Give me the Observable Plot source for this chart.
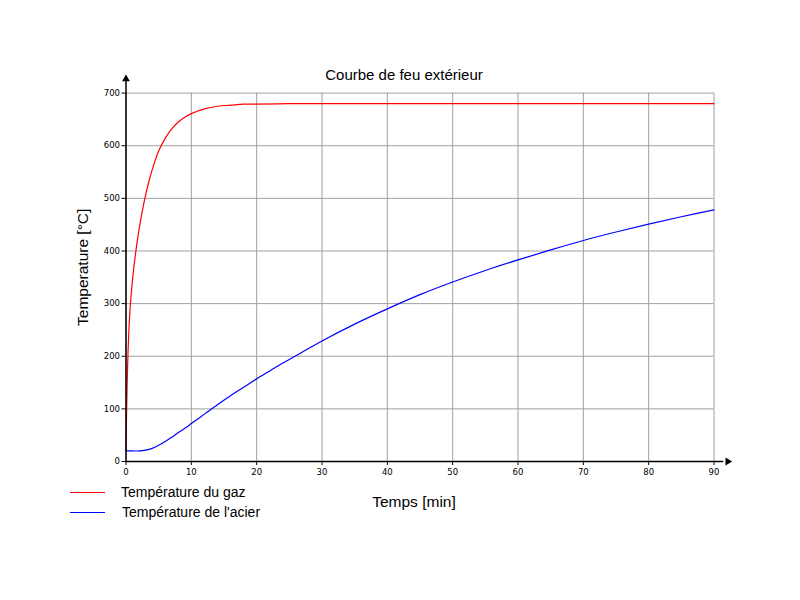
<!DOCTYPE html>
<html>
<head>
<meta charset="utf-8">
<script src="https://cdn.jsdelivr.net/npm/d3@7"></script>
<script src="https://cdn.jsdelivr.net/npm/@observablehq/plot@0.6"></script>
<style>
  html, body { margin: 0; padding: 0; background: #fff; }
  #wrap { position: relative; width: 800px; height: 600px; }
  #legend { position: absolute; left: 70px; top: 482px; font-family: "Liberation Sans", Arial, sans-serif; font-size: 14px; color: #000; }
  .row { display: flex; align-items: center; height: 20px; }
  .sw { width: 35px; height: 0; border-top: 1.3px solid; margin-right: 16px; }
</style>
</head>
<body>
<div id="wrap">
  <div id="chart"></div>
  <div id="legend"></div>
</div>
<script>
// Data
const gasTime = [0, 0.1, 0.25, 0.5, 0.75, 1, 1.5, 2, 2.5, 3, 3.5, 4, 5, 6, 7, 8, 9, 10, 12, 14, 16, 18, 20, 25, 30, 40, 50, 60, 70, 80, 90];
const gasTemp = [20, 100, 183, 264, 311, 346, 399, 441, 476, 506, 532, 554, 590, 614, 632, 645, 654, 661, 670, 675, 677, 679, 679, 680, 680, 680, 680, 680, 680, 680, 680];
const steelTime = [0, 1, 2, 2.5, 3, 3.5, 4, 5, 6, 7, 8, 9, 10, 12, 14, 16, 18, 20, 22, 24, 26, 28, 30, 35, 40, 45, 50, 55, 60, 65, 70, 75, 80, 85, 90];
const steelTemp = [20, 20, 20, 20.5, 21.5, 23, 25, 31, 38, 46, 55, 63, 72, 90, 108, 125, 141, 157, 172, 187, 201, 215, 229, 261, 290, 317, 341, 363, 383, 402, 420, 436, 451, 465, 478];
const xTicks = [0, 10, 20, 30, 40, 50, 60, 70, 80, 90];
const yTicks = [0, 100, 200, 300, 400, 500, 600, 700];
const seriesNames = ["Température du gaz", "Température de l'acier"];
const seriesColors = ["#ff0000", "#0000ff"];
const title = "Courbe de feu extérieur";
const xLabel = "Temps [min]";
const yLabel = "Temperature [°C]";
// axis extents (arrows) in data units
const xAxisEnd = 91.5, xArrow = 92.1;
const yAxisEnd = 728, yArrow = 727;

const gas = gasTime.map((t, i) => ({t, v: gasTemp[i]}));
const steel = steelTime.map((t, i) => ({t, v: steelTemp[i]}));

const tickFont = "DejaVu Sans, Verdana, sans-serif";

const chart = Plot.plot({
  width: 800,
  height: 600,
  marginLeft: 125.5,
  marginRight: 86.5,
  marginTop: 92.6,
  marginBottom: 139,
  style: {fontFamily: "Liberation Sans, Arial, sans-serif", background: "#fff"},
  x: {domain: [0, 90]},
  y: {domain: [0, 700]},
  marks: [
    Plot.gridX(xTicks, {stroke: "#a0a0a0", strokeOpacity: 1, strokeWidth: 1}),
    Plot.gridY(yTicks, {stroke: "#a0a0a0", strokeOpacity: 1, strokeWidth: 1}),
    Plot.axisX(xTicks, {tickSize: 4, tickPadding: 3, fontSize: 8.5, fontFamily: tickFont, fill: "#000", stroke: "#000", label: null}),
    Plot.axisY(yTicks, {tickSize: 4, tickPadding: 2, fontSize: 8.5, fontFamily: tickFont, fill: "#000", stroke: "#000", label: null}),
    Plot.line(gas, {x: "t", y: "v", stroke: seriesColors[0], strokeWidth: 1.2, curve: "catmull-rom"}),
    Plot.line(steel, {x: "t", y: "v", stroke: seriesColors[1], strokeWidth: 1.2, curve: "catmull-rom"}),
    // axis lines with arrows
    Plot.ruleY([0], {x1: 0, x2: xAxisEnd, stroke: "#000", strokeWidth: 1.5}),
    Plot.ruleX([0], {y1: 0, y2: yAxisEnd, stroke: "#000", strokeWidth: 1.5}),
    Plot.dot([{t: xArrow, v: 0}], {x: "t", y: "v", symbol: "triangle2", r: 3.7, fill: "#000", rotate: 90}),
    Plot.dot([{t: 0, v: yArrow}], {x: "t", y: "v", symbol: "triangle2", r: 3.7, fill: "#000"}),
    // titles
    Plot.text([title], {frameAnchor: "top", lineAnchor: "middle", textAnchor: "middle", dx: -16, dy: -18, fontSize: 15, fill: "#000"}),
    Plot.text([xLabel], {frameAnchor: "bottom", lineAnchor: "middle", textAnchor: "middle", dx: -6, dy: 41, fontSize: 15.5, fill: "#000"}),
    Plot.text([yLabel], {frameAnchor: "left", lineAnchor: "middle", textAnchor: "middle", dx: -43, dy: -10, rotate: -90, fontSize: 15.5, fill: "#000"})
  ]
});
document.getElementById("chart").appendChild(chart);

const legend = document.getElementById("legend");
seriesNames.forEach((name, i) => {
  const row = document.createElement("div");
  row.className = "row";
  const sw = document.createElement("div");
  sw.className = "sw";
  sw.style.borderTopColor = seriesColors[i];
  const lab = document.createElement("span");
  lab.textContent = name;
  if (i === 1) lab.style.marginLeft = "1px";
  row.appendChild(sw);
  row.appendChild(lab);
  legend.appendChild(row);
});
</script>
</body>
</html>
